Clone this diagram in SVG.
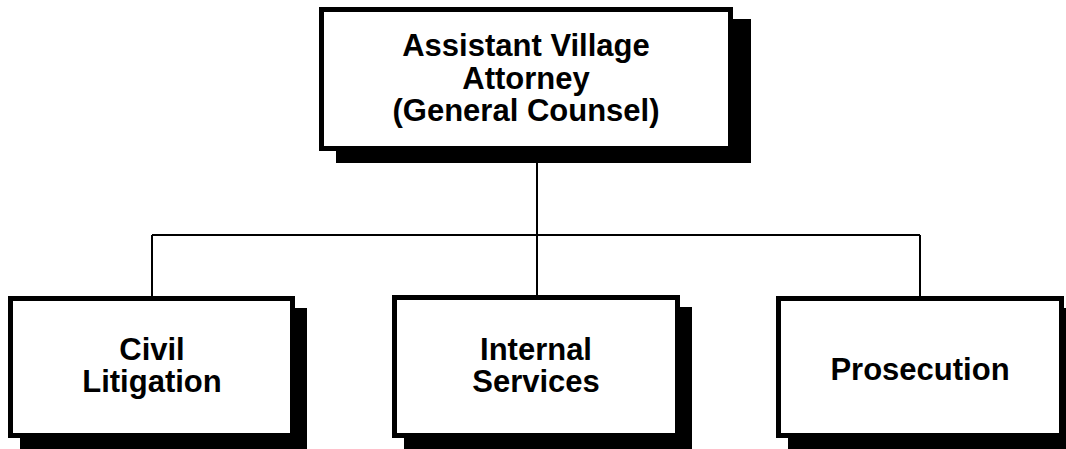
<svg xmlns="http://www.w3.org/2000/svg" width="1066" height="449" viewBox="0 0 1066 449">
  <style>
    .shadow { fill: #000; }
    .box { fill: #fff; stroke: #000; stroke-width: 5; }
    .label { font-family: "Liberation Sans", Arial, sans-serif; font-weight: bold; font-size: 31px; fill: #000; text-anchor: middle; }
    .wire { fill: none; stroke: #000; stroke-width: 2; }
  </style>

  <!-- reporting lines -->
  <g id="connectors">
    <path class="wire" d="M537 151 V296"/>
    <path class="wire" d="M152 235 H920"/>
    <path class="wire" d="M152 235 V296"/>
    <path class="wire" d="M920 235 V296"/>
  </g>

  <g id="general-counsel">
    <rect class="shadow" x="336" y="19" width="415" height="144"/>
    <rect class="box" x="321.5" y="9.5" width="409" height="139"/>
    <text class="label" x="526" y="56">Assistant Village</text>
    <text class="label" x="526" y="89">Attorney</text>
    <text class="label" x="526" y="121">(General Counsel)</text>
  </g>

  <g id="civil-litigation">
    <rect class="shadow" x="20" y="308" width="287" height="142"/>
    <rect class="box" x="10.5" y="298.5" width="282" height="137"/>
    <text class="label" x="152" y="360">Civil</text>
    <text class="label" x="152" y="392">Litigation</text>
  </g>

  <g id="internal-services">
    <rect class="shadow" x="404" y="307" width="288" height="143"/>
    <rect class="box" x="394.5" y="297.5" width="283" height="138"/>
    <text class="label" x="536" y="360">Internal</text>
    <text class="label" x="536" y="392">Services</text>
  </g>

  <g id="prosecution">
    <rect class="shadow" x="788" y="308" width="288" height="142"/>
    <rect class="box" x="778.5" y="298.5" width="283" height="137"/>
    <text class="label" x="920" y="380">Prosecution</text>
  </g>
</svg>
